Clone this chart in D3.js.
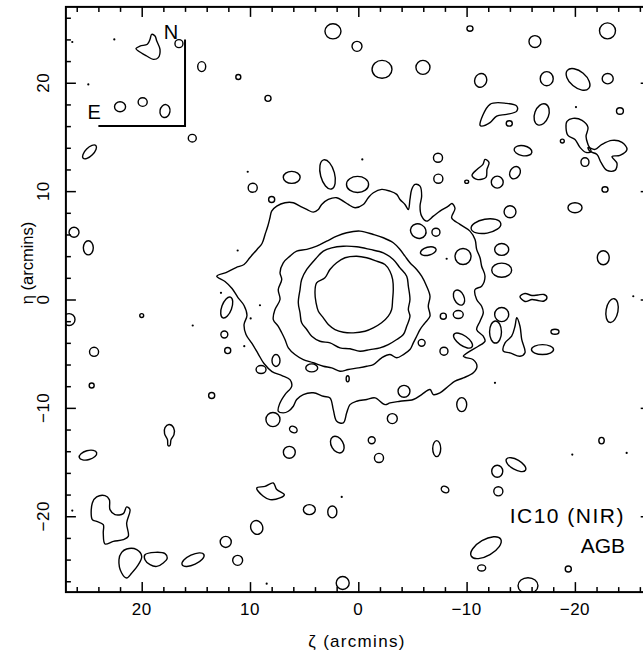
<!DOCTYPE html>
<html><head><meta charset="utf-8">
<script src="https://cdn.jsdelivr.net/npm/d3@7"></script>
<style>
body{margin:0;background:#fff}
svg{display:block}
text{font-family:"Liberation Sans",Arial,Helvetica,sans-serif;fill:#000}
</style>
</head><body>
<svg id="chart" width="643" height="657"></svg>
<script>
// ---------- data (arcmin) ----------
const xiTicks = [20, 10, 0, -10, -20];
const etaTicks = [20, 10, 0, -10, -20];
const minorTicks = d3.range(-26, 27, 2);
const xiLabel = "ζ (arcmins)";
const etaLabel = "η (arcmins)";
const titleLines = ["IC10 (NIR)", "AGB"];

// density contour levels around the galaxy centre [xi, eta]
const level1 = [[13.07,2.15],[12.22,2.49],[11.29,2.95],[10.55,3.23],[10.0,3.88],[9.35,4.62],[8.89,5.17],[8.61,6.0],[8.34,6.83],[8.15,7.57],[8.0,8.15],[7.53,8.61],[6.77,8.93],[6.0,8.93],[5.38,8.61],[4.76,8.31],[4.16,8.06],[3.69,8.31],[3.38,8.77],[2.77,9.23],[1.99,9.39],[1.39,9.08],[0.92,8.77],[0.30,8.47],[-0.46,8.77],[-0.92,9.39],[-1.39,9.85],[-2.16,10.16],[-2.93,10.0],[-3.55,9.70],[-3.85,9.23],[-4.31,8.77],[-4.62,8.31],[-4.77,9.23],[-4.93,10.16],[-5.24,10.62],[-5.70,10.46],[-5.85,9.54],[-5.70,8.61],[-5.85,7.69],[-6.32,7.23],[-6.93,7.69],[-7.54,8.15],[-8.31,8.61],[-8.65,8.86],[-8.93,8.40],[-8.62,7.54],[-9.39,6.93],[-10.31,6.31],[-10.78,5.54],[-10.93,4.62],[-11.24,3.85],[-11.39,3.07],[-11.70,2.15],[-11.39,1.23],[-10.78,0.92],[-10.93,0],[-11.39,-0.62],[-11.54,-1.23],[-11.24,-2.0],[-10.93,-2.77],[-11.54,-3.39],[-11.70,-3.85],[-11.08,-4.31],[-10.31,-4.77],[-9.70,-5.24],[-9.94,-5.36],[-10.59,-5.54],[-10.96,-6.16],[-10.62,-6.77],[-9.70,-7.23],[-8.93,-7.54],[-8.31,-8.01],[-7.54,-8.61],[-6.93,-8.77],[-6.62,-8.31],[-5.85,-8.77],[-5.08,-9.23],[-3.85,-9.39],[-2.93,-9.54],[-2.47,-9.70],[-1.54,-9.08],[-0.78,-9.23],[0.15,-9.39],[0.77,-9.70],[1.07,-10.46],[1.39,-11.39],[1.99,-11.24],[2.31,-10.16],[2.61,-9.08],[3.23,-8.93],[4.16,-8.61],[5.08,-8.77],[5.69,-9.23],[6.0,-9.85],[6.46,-10.31],[6.93,-10.46],[7.39,-10.31],[7.23,-9.54],[6.77,-8.77],[6.15,-8.01],[6.31,-7.39],[7.05,-7.02],[7.97,-6.65],[8.71,-5.91],[9.26,-4.99],[9.82,-4.06],[10.37,-3.23],[10.55,-2.31],[10.28,-1.48],[10.55,-0.55],[11.11,0.18],[11.66,1.02],[12.31,1.66]];
const level2 = [[1.07,6.16],[-0.16,6.31],[-1.39,6.0],[-2.31,5.70],[-3.23,5.24],[-3.85,4.62],[-4.31,4.0],[-4.77,3.39],[-5.39,2.77],[-5.85,2.15],[-6.31,1.23],[-6.62,0.30],[-6.46,-0.62],[-6.62,-1.54],[-6.16,-2.15],[-5.70,-2.77],[-5.39,-3.39],[-5.08,-4.0],[-4.77,-4.62],[-4.16,-5.08],[-3.55,-5.38],[-2.93,-5.08],[-2.16,-5.38],[-1.39,-6.0],[-0.78,-6.16],[0,-6.31],[0.92,-6.46],[1.69,-6.62],[2.46,-6.31],[3.23,-6.16],[4.16,-5.84],[5.08,-5.54],[5.85,-5.08],[6.46,-4.46],[6.77,-3.69],[7.07,-3.07],[7.39,-2.47],[7.85,-1.85],[7.69,-0.92],[7.23,0],[7.39,0.92],[7.07,1.85],[7.23,2.47],[6.93,3.39],[6.31,4.0],[5.69,4.46],[4.76,4.62],[3.84,4.92],[2.92,5.38],[1.99,5.84]];
const level3 = [[2.46,4.77],[1.39,4.92],[0.15,4.87],[-1.08,4.62],[-2.31,4.31],[-3.23,3.69],[-3.85,2.92],[-4.47,2.15],[-4.62,1.23],[-4.77,0],[-4.62,-0.92],[-4.77,-1.54],[-4.47,-2.47],[-4.16,-3.23],[-3.55,-3.69],[-2.77,-4.16],[-2.0,-4.46],[-1.08,-4.62],[-0.16,-4.77],[0.77,-4.55],[1.69,-4.46],[2.61,-4.0],[3.54,-3.85],[4.30,-3.39],[4.76,-2.77],[5.23,-2.15],[5.38,-1.23],[5.54,-0.3],[5.38,0.92],[5.23,1.85],[4.76,2.77],[4.0,3.69],[3.23,4.46]];
const level4 = [[0.15,3.99],[-0.77,3.85],[-1.69,3.54],[-2.46,3.23],[-2.92,2.61],[-3.17,1.85],[-3.23,0.92],[-3.17,0],[-3.08,-0.92],[-2.77,-1.54],[-2.15,-2.15],[-1.38,-2.62],[-0.62,-2.93],[0.46,-3.08],[1.38,-3.02],[2.15,-2.77],[2.77,-2.31],[3.23,-1.69],[3.69,-1.08],[3.9,-0.31],[4.0,0.62],[3.85,1.54],[3.08,2.0],[2.62,2.77],[2.0,3.39],[1.23,3.85]];

// irregular outlying clumps [xi, eta]
const clumps = [
 [[19.08,24.47],[18.77,24.31],[18.61,23.85],[18.31,23.08],[18.47,22.32],[18.93,22.16],[19.54,22.47],[20.31,22.93],[20.53,23.15],[20.16,23.39],[19.48,23.55],[19.23,24.01]],
 [[-11.24,16.07],[-12.16,18.01],[-13.70,18.10],[-14.63,17.85],[-14.63,17.39],[-13.70,17.08],[-12.78,16.93],[-12.16,16.32],[-11.39,16.0]],
 [[-19.27,16.44],[-19.82,16.71],[-20.66,16.53],[-21.21,15.88],[-21.03,15.05],[-21.21,14.31],[-21.49,13.67],[-21.03,13.57],[-20.47,14.04],[-20.01,14.77],[-19.36,15.14],[-19.18,15.88]],
 [[-21.21,14.04],[-21.86,13.85],[-22.50,14.31],[-23.43,14.68],[-24.35,14.50],[-24.81,13.85],[-24.16,13.30],[-23.43,13.20],[-23.89,12.56],[-23.70,11.91],[-22.96,11.91],[-22.41,12.65],[-22.04,13.39],[-21.39,13.67]],
 [[-11.70,12.93],[-12.07,12.65],[-11.88,12.0],[-11.79,11.27],[-10.96,11.08],[-10.50,11.45],[-10.96,12.0],[-11.51,12.47]],
 [[-14.93,0.28],[-15.39,0.55],[-16.04,0.37],[-16.59,0.42],[-17.15,0.46],[-17.42,0.18],[-17.15,-0.14],[-16.59,-0.09],[-16.04,0],[-15.39,-0.18]],
 [[-14.63,-1.69],[-14.93,-2.47],[-15.09,-3.69],[-15.39,-4.92],[-14.93,-5.24],[-14.01,-4.92],[-13.39,-4.77],[-13.55,-4.0],[-14.16,-3.39],[-14.47,-2.47]],
 [[9.38,-17.39],[8.61,-17.24],[7.85,-16.93],[7.53,-17.54],[6.83,-18.01],[7.23,-18.31],[8.15,-18.47],[8.77,-18.16]],
 [[24.56,-18.77],[24.16,-18.22],[23.39,-18.10],[22.99,-18.47],[22.93,-19.39],[22.47,-19.85],[21.70,-19.76],[21.39,-19.14],[21.08,-19.39],[21.39,-20.62],[21.24,-21.86],[21.70,-22.16],[22.62,-22.32],[23.39,-22.56],[23.55,-21.54],[23.55,-20.78],[24.16,-20.47],[24.56,-20.31]],
 [[21.39,-23.02],[20.46,-23.08],[20.0,-23.70],[20.31,-24.47],[20.92,-25.24],[21.39,-25.70],[21.85,-25.24],[22.10,-24.01],[21.85,-23.33]],
 [[19.70,-23.55],[18.77,-23.33],[17.85,-23.45],[17.64,-23.85],[18.01,-24.31],[18.61,-24.63],[19.23,-24.47],[19.70,-24.01]],
 [[17.48,-11.54],[17.06,-11.82],[17.02,-12.47],[17.29,-12.93],[17.39,-13.48],[17.57,-13.48],[17.62,-12.93],[17.89,-12.37],[17.85,-11.82]]
];

// small roughly elliptical clumps [xi, eta, semi-axis a, semi-axis b, tilt deg]
const blobs = [
 [16.56,23.61,.37,.37,0],[14.46,21.49,.37,.46,0],[11.08,20.53,.23,.23,0],[22.0,17.79,.51,.46,0],[19.91,18.22,.42,.40,0],
 [17.85,17.39,.46,.60,10],[15.33,14.89,.37,.35,0],[24.82,13.62,.83,.37,-45],[9.75,10.31,.42,.42,0],[8.34,18.56,.28,.28,0],
 [2.34,24.75,.74,.70,0],[0.12,23.36,.46,.46,0],[-2.19,21.24,.92,.83,0],[-5.97,21.42,.65,.65,0],[-10.31,25.0,.28,.25,0],
 [-16.31,23.80,.55,.55,0],[-23.01,24.79,.74,.74,0],[-11.30,20.22,.55,.65,20],[-17.40,20.38,.60,.65,0],[-20.29,20.31,1.29,.74,40],
 [-23.03,20.38,.51,.48,0],[-24.16,17.39,.32,.30,0],[-13.94,16.25,.28,.25,0],[-16.93,17.08,.65,1.02,20],[-20.93,12.68,.37,.40,0],
 [-18.84,14.62,.18,.18,0],[-22.78,10.16,.28,.25,0],[-7.36,13.08,.42,.42,0],[-7.39,11.15,.42,.42,0],[-15.21,13.73,.83,.46,10],
 [-14.47,11.70,.46,.60,30],[-12.83,10.83,.55,.55,0],[-10.01,10.87,.18,.15,0],[-14.01,8.10,.55,.55,0],[-20.01,8.47,.65,.46,0],
 [-11.79,6.77,1.39,.65,-10],[-13.24,4.62,.65,.55,0],[-13.24,2.71,.92,.65,0],[-9.67,3.97,.74,.74,0],[-22.62,3.85,.55,.65,0],
 [-23.43,-1.02,.55,1.11,10],[-9.30,0.18,.46,.74,-25],[-7.85,-1.54,.28,.28,0],[-9.23,-1.39,.46,.37,0],[-13.24,-1.39,.65,.65,0],
 [-12.67,-3.0,.55,1.02,0],[-17.01,-4.62,1.02,.46,0],[-18.16,-2.98,.37,.23,0],[-9.67,-3.79,1.02,.46,35],[-7.91,-4.77,.37,.37,0],
 [-5.85,-4.0,.32,.32,0],[-9.55,-9.70,.46,.65,0],[-22.46,-13.02,.25,.30,0],[-12.83,-15.85,.51,.55,0],[-14.56,-15.24,1.02,.46,30],
 [-12.93,-17.70,.42,.42,0],[-8.01,-17.54,.37,.28,30],[-11.79,-22.90,1.57,.74,-30],[-11.39,-24.77,.37,.28,0],[-19.39,-24.87,.28,.28,0],
 [-15.67,-26.41,.92,.74,0],[7.88,-11.08,.65,.65,0],[6.0,-12.0,.37,.28,30],[6.37,-14.10,.55,.55,0],[1.94,-13.39,.55,.83,-30],
 [-1.24,-12.99,.32,.32,0],[-1.91,-14.62,.42,.42,0],[-3.14,-10.99,.46,.46,0],[-4.22,-8.47,.55,.55,0],[-7.24,-13.76,.37,.74,0],
 [4.52,-19.39,.55,.46,0],[2.40,-19.60,.42,.55,0],[9.38,-21.03,.55,.65,-20],[12.24,-22.37,.51,.51,0],[11.14,-24.07,.46,.46,0],
 [1.44,-26.16,.60,.60,0],[15.26,-24.01,1.11,.46,-25],[24.96,-14.36,.83,.42,-15],[26.25,6.21,.46,.46,0],[24.93,4.77,.46,.65,0],
 [26.71,-1.85,.55,.55,0],[20.0,-1.48,.18,.18,0],[24.40,-4.83,.42,.42,0],[24.62,-7.94,.23,.23,0],[13.54,-8.86,.28,.28,0],
 [12.15,-0.74,.46,1.02,20],[12.37,-3.23,.32,.32,0],[12.06,-4.71,.28,.28,0],[6.15,11.27,.78,.55,0],[2.84,11.54,.65,1.39,-15],
 [0.07,10.62,1.02,.74,0],[8.0,9.23,.28,.28,0],[7.60,-5.63,.37,.55,0],[8.98,-6.46,.46,.37,0],[4.30,-6.31,.55,.37,0],
 [0.98,-7.32,.14,.28,0],[-5.54,6.31,.74,.65,30],[-7.17,6.21,.37,.37,0],[-6.46,4.46,.74,.37,-15]
];

// single-pixel peaks [xi, eta]
const dots = [[26.41,23.76],[22.53,24.0],[24.93,19.85],[10.21,11.79],[-20.10,17.76],[-8.16,3.76],[-25.39,0.30],[-12.62,-7.69],[-19.76,-14.31],[-24.78,-14.16],[1.53,-18.22],[8.46,-26.22],[26.41,-19.48],[11.14,4.52],[15.29,-2.40],[12.68,0.62],[-0.37,12.93],[9.08,-0.53],[9.94,-1.75],[10.53,-4.31]];

// compass arms: corner and tips [xi, eta]
const compass = [[24,16],[16,16],[16,24]];
const compassLabels = [["N",17.3,24.0],["E",24.4,16.7]];

// ---------- drawing ----------
const svg = d3.select("#chart");
const x = d3.scaleLinear().domain([27, -27]).range([65.9, 650.7]);
const y = d3.scaleLinear().domain([-27, 27]).range([592.1, 6.9]);
const kx = Math.abs(x(1) - x(0)), ky = Math.abs(y(1) - y(0));

svg.append("defs").append("clipPath").attr("id", "clip")
  .append("rect").attr("x", x(27)).attr("y", y(27))
  .attr("width", x(-27) - x(27)).attr("height", y(-27) - y(27));

const g = svg.append("g").attr("clip-path", "url(#clip)");
const line = d3.line().x(d => x(d[0])).y(d => y(d[1])).curve(d3.curveCatmullRomClosed.alpha(0.5));

const stroke = { fill: "none", stroke: "#000", "stroke-width": 1.4, "stroke-linejoin": "round" };
function sty(sel) { Object.entries(stroke).forEach(([k, v]) => sel.attr(k, v)); return sel; }

sty(g.selectAll("path.lev").data([level1, level2, level3, level4]).join("path").attr("class", "lev").attr("d", line));
sty(g.selectAll("path.clump").data(clumps).join("path").attr("class", "clump").attr("d", line));
sty(g.selectAll("ellipse").data(blobs).join("ellipse")
  .attr("cx", d => x(d[0])).attr("cy", d => y(d[1]))
  .attr("rx", d => d[2] * kx).attr("ry", d => d[3] * ky)
  .attr("transform", d => `rotate(${d[4]},${x(d[0])},${y(d[1])})`));
g.selectAll("circle.dot").data(dots).join("circle").attr("class", "dot")
  .attr("cx", d => x(d[0])).attr("cy", d => y(d[1])).attr("r", 1.1).attr("fill", "#000");

// compass
svg.append("path").attr("d", d3.line().x(d => x(d[0])).y(d => y(d[1]))(compass))
  .attr("fill", "none").attr("stroke", "#000").attr("stroke-width", 2);
svg.selectAll("text.cmp").data(compassLabels).join("text").attr("class", "cmp")
  .attr("x", d => x(d[1])).attr("y", d => y(d[2])).attr("text-anchor", "middle")
  .attr("font-size", 20).text(d => d[0]);

// axes: inward ticks on all four sides
function axisG(axis, tx, ty) {
  const a = svg.append("g").attr("transform", `translate(${tx},${ty})`).call(axis);
  a.select(".domain").remove();
  a.selectAll("line").attr("stroke", "#000").attr("stroke-width", 1.5);
  a.selectAll("text").remove();
  return a;
}
const minorOnly = minorTicks.filter(v => v % 10 !== 0);
axisG(d3.axisBottom(x).tickValues(minorOnly).tickSize(-5), 0, y(-27));
axisG(d3.axisBottom(x).tickValues(xiTicks).tickSize(-10), 0, y(-27));
axisG(d3.axisTop(x).tickValues(minorOnly).tickSize(-5), 0, y(27));
axisG(d3.axisTop(x).tickValues(xiTicks).tickSize(-10), 0, y(27));
axisG(d3.axisLeft(y).tickValues(minorOnly).tickSize(-5), x(27), 0);
axisG(d3.axisLeft(y).tickValues(etaTicks).tickSize(-10), x(27), 0);
axisG(d3.axisRight(y).tickValues(minorOnly).tickSize(-5), x(-27), 0);
axisG(d3.axisRight(y).tickValues(etaTicks).tickSize(-10), x(-27), 0);

// frame
svg.append("rect").attr("x", x(27)).attr("y", y(27))
  .attr("width", x(-27) - x(27)).attr("height", y(-27) - y(27))
  .attr("fill", "none").attr("stroke", "#000").attr("stroke-width", 2);

// tick labels
const fmt = d3.format("d");
svg.selectAll("text.xt").data(xiTicks).join("text").attr("class", "xt")
  .attr("x", d => x(d)).attr("y", 615).attr("text-anchor", "middle")
  .attr("font-size", 17).attr("letter-spacing", 0.5).text(d => fmt(d));
svg.selectAll("text.yt").data(etaTicks).join("text").attr("class", "yt")
  .attr("transform", d => `translate(48.5,${y(d)}) rotate(-90)`)
  .attr("text-anchor", "middle").attr("font-size", 17).attr("letter-spacing", 0.5).text(d => fmt(d));

// axis titles
svg.append("text").attr("x", 357).attr("y", 647).attr("text-anchor", "middle")
  .attr("font-size", 17).attr("letter-spacing", 1.3).text(xiLabel);
svg.append("text").attr("transform", "translate(33,263) rotate(-90)")
  .attr("text-anchor", "middle").attr("font-size", 16.5).text(etaLabel);

// annotation
svg.selectAll("text.ttl").data(titleLines).join("text").attr("class", "ttl")
  .attr("x", 625).attr("y", (d, i) => 523 + i * 30).attr("text-anchor", "end")
  .attr("font-size", 21).attr("letter-spacing", (d, i) => i === 0 ? 1.5 : 0)
  .text(d => d);
</script>
</body></html>
